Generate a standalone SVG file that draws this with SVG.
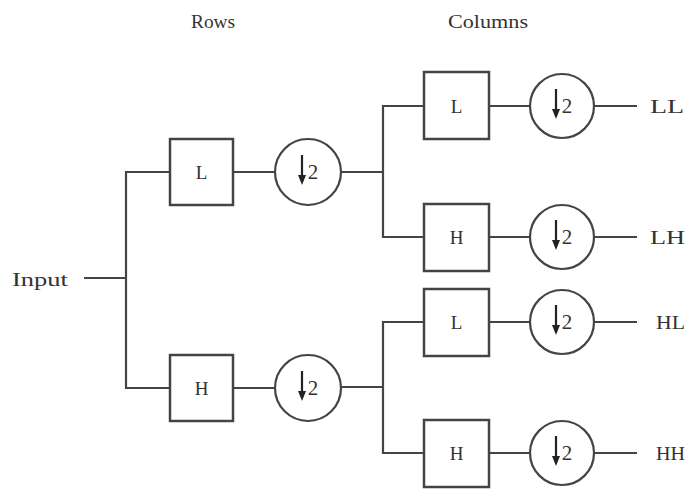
<svg xmlns="http://www.w3.org/2000/svg" width="696" height="496" viewBox="0 0 696 496">
<style>
.ln{stroke:#444;stroke-width:2.2;fill:none}
.bx{stroke:#444;stroke-width:2.5;fill:#fff}
.ci{stroke:#444;stroke-width:2.2;fill:#fff}
.ar{stroke:#222;stroke-width:2.2}
text{font-family:"Liberation Serif","Times New Roman",serif;fill:#333}
.lb{font-size:19px;text-anchor:middle}
.hd{font-size:18px;text-anchor:middle}
.ds{font-size:20px;text-anchor:middle}
</style>
<defs>
<g id="dn">
<line class="ar" x1="-6" y1="-17" x2="-6" y2="6"/>
<polygon points="-10,3 -2,3 -6,13" fill="#222"/>
<text x="5" y="7" style="font-size:21px;text-anchor:middle">2</text>
</g>
</defs>
<rect width="696" height="496" fill="#fff"/>
<g id="connectors">
<line class="ln" x1="84" y1="278" x2="126" y2="278"/>
<polyline class="ln" points="170,172 126,172 126,388 170,388"/>
<line class="ln" x1="233" y1="172" x2="275" y2="172"/>
<line class="ln" x1="233" y1="388" x2="275" y2="388"/>
<line class="ln" x1="341" y1="172" x2="383" y2="172"/>
<line class="ln" x1="341" y1="387" x2="383" y2="387"/>
<polyline class="ln" points="424,106 383,106 383,237 424,237"/>
<polyline class="ln" points="424,322 383,322 383,453 424,453"/>
<line class="ln" x1="489" y1="106" x2="530" y2="106"/>
<line class="ln" x1="489" y1="237" x2="530" y2="237"/>
<line class="ln" x1="489" y1="322" x2="530" y2="322"/>
<line class="ln" x1="489" y1="453" x2="530" y2="453"/>
<line class="ln" x1="594" y1="106" x2="637" y2="106"/>
<line class="ln" x1="594" y1="237" x2="637" y2="237"/>
<line class="ln" x1="594" y1="322" x2="637" y2="322"/>
<line class="ln" x1="594" y1="453" x2="637" y2="453"/>
</g>
<g id="headers">
<text class="hd" x="213" y="28" textLength="44" lengthAdjust="spacingAndGlyphs">Rows</text>
<text class="hd" x="488" y="28" textLength="80" lengthAdjust="spacingAndGlyphs">Columns</text>
</g>
<g id="input"><text x="12" y="286" style="font-size:18px" textLength="56" lengthAdjust="spacingAndGlyphs">Input</text></g>
<g id="row-L"><rect class="bx" x="170" y="139" width="63" height="66"/><text class="lb" x="201.5" y="179">L</text></g>
<g id="row-H"><rect class="bx" x="170" y="355" width="63" height="66"/><text class="lb" x="201.5" y="395">H</text></g>
<g id="row-L-down"><circle class="ci" cx="308" cy="172" r="33"/><use href="#dn" x="308" y="172"/></g>
<g id="row-H-down"><circle class="ci" cx="308" cy="388" r="33"/><use href="#dn" x="308" y="388"/></g>
<g id="col-LL"><rect class="bx" x="424" y="72" width="65" height="67"/><text class="lb" x="456.5" y="113">L</text></g>
<g id="col-LH"><rect class="bx" x="424" y="204" width="65" height="67"/><text class="lb" x="456.5" y="244">H</text></g>
<g id="col-HL"><rect class="bx" x="424" y="289" width="65" height="67"/><text class="lb" x="456.5" y="329">L</text></g>
<g id="col-HH"><rect class="bx" x="424" y="420" width="65" height="67"/><text class="lb" x="456.5" y="460">H</text></g>
<g id="col-LL-down"><circle class="ci" cx="562" cy="106" r="32"/><use href="#dn" x="562" y="106"/></g>
<g id="col-LH-down"><circle class="ci" cx="562" cy="237" r="32"/><use href="#dn" x="562" y="237"/></g>
<g id="col-HL-down"><circle class="ci" cx="562" cy="322" r="32"/><use href="#dn" x="562" y="322"/></g>
<g id="col-HH-down"><circle class="ci" cx="562" cy="453" r="32"/><use href="#dn" x="562" y="453"/></g>
<g id="outputs">
<text x="650" y="113" style="font-size:18px" textLength="34" lengthAdjust="spacingAndGlyphs">LL</text>
<text x="650" y="244" style="font-size:18px" textLength="35" lengthAdjust="spacingAndGlyphs">LH</text>
<text x="656" y="329" style="font-size:18px" textLength="29" lengthAdjust="spacingAndGlyphs">HL</text>
<text x="656" y="460" style="font-size:18px" textLength="29" lengthAdjust="spacingAndGlyphs">HH</text>
</g>
</svg>
